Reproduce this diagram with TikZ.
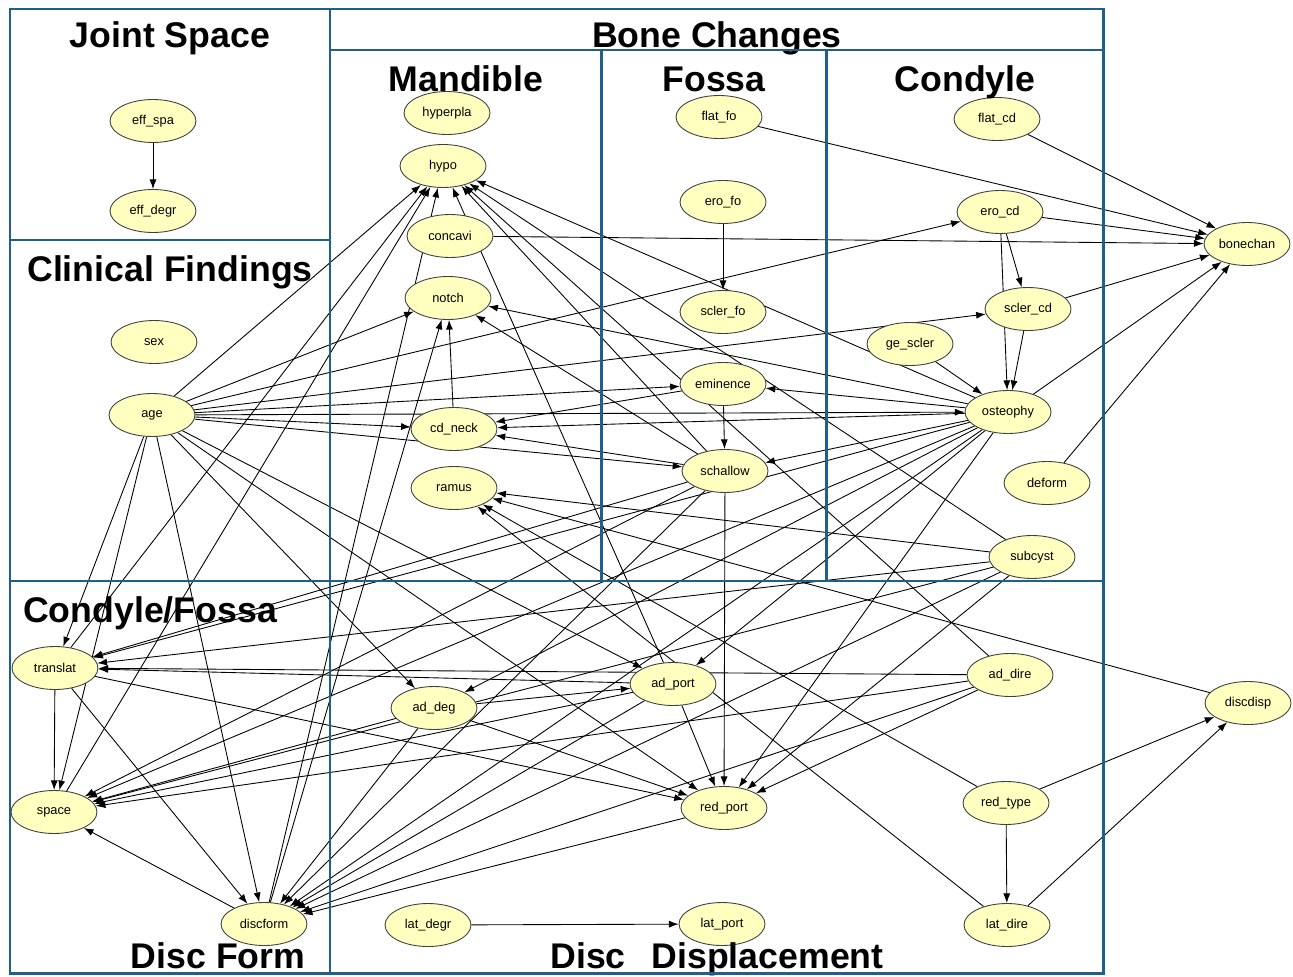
\documentclass[tikz,border=0pt]{standalone}
\usepackage{fontspec}
\setsansfont{Liberation Sans}
\usetikzlibrary{shapes.geometric,arrows.meta}
\definecolor{panelblue}{RGB}{31,95,140}
\definecolor{varyellow}{RGB}{255,255,192}
\tikzstyle{var} = [draw=black!75, fill=varyellow, ellipse, minimum width=1.72cm, minimum height=0.86cm, inner sep=0pt, line width=0.5pt, font=\sffamily\fontsize{7.3}{8}\selectfont]
\tikzstyle{dep} = [-{Latex[length=5.5pt,width=4pt]}, line width=0.5pt]
\tikzstyle{panel} = [draw=panelblue, line width=1.7pt]
\tikzstyle{heading} = [anchor=base, inner sep=0pt, font=\sffamily\bfseries\fontsize{20.3}{22}\selectfont]
\pgfdeclarelayer{background}
\pgfsetlayers{background,main}

\begin{document}
\begin{tikzpicture}[x=0.02cm, y=-0.02cm]
      \useasboundingbox (0,0) rectangle (1293,976);
      % joint space / clinical findings / condyle-fossa
      \node[var] (effspa) at (153,121) {eff\_spa};
      \node[var] (effdegr) at (153,211) {eff\_degr};
      \node[var] (sex) at (154,342) {sex};
      \node[var] (age) at (152,415) {age};
      \node[var] (translat) at (55,668) {translat};
      \node[var] (space) at (54,812) {space};
      \node[var] (discform) at (264,924) {discform};
      % bone changes
      \node[var] (hyperpla) at (447,113) {hyperpla};
      \node[var] (hypo) at (443,166) {hypo};
      \node[var] (concavi) at (450,236) {concavi};
      \node[var] (notch) at (448,298) {notch};
      \node[var] (cdneck) at (454,429) {cd\_neck};
      \node[var] (ramus) at (454,488) {ramus};
      \node[var] (flatfo) at (719,117) {flat\_fo};
      \node[var] (erofo) at (723,202) {ero\_fo};
      \node[var] (sclerfo) at (723,312) {scler\_fo};
      \node[var] (eminence) at (723,384) {eminence};
      \node[var] (schallow) at (725,471) {schallow};
      \node[var] (flatcd) at (997,119) {flat\_cd};
      \node[var] (erocd) at (1000,212) {ero\_cd};
      \node[var] (sclercd) at (1028,309) {scler\_cd};
      \node[var] (gescler) at (910,344) {ge\_scler};
      \node[var] (osteophy) at (1008,412) {osteophy};
      \node[var] (deform) at (1047,483) {deform};
      \node[var] (subcyst) at (1032,557) {subcyst};
      \node[var] (bonechan) at (1247,244) {bonechan};
      % disc displacement
      \node[var] (adport) at (673,684) {ad\_port};
      \node[var] (addeg) at (434,708) {ad\_deg};
      \node[var] (redport) at (724,808) {red\_port};
      \node[var] (addire) at (1010,675) {ad\_dire};
      \node[var] (redtype) at (1006,803) {red\_type};
      \node[var] (latdire) at (1007,925) {lat\_dire};
      \node[var] (latdegr) at (428,925) {lat\_degr};
      \node[var] (latport) at (722,924) {lat\_port};
      \node[var] (discdisp) at (1248,703) {discdisp};
      \begin{pgfonlayer}{background}
        \foreach \src/\dst in {effspa/effdegr,
          age/hypo, age/notch, age/erocd, age/sclercd, age/eminence, age/osteophy, age/cdneck,
          age/schallow, age/addeg, age/adport, age/redport, age/translat, age/space, age/discform,
          translat/hypo, translat/space, translat/discform, translat/redport, space/hypo,
          discform/hypo, discform/notch, discform/space, concavi/bonechan, cdneck/notch,
          flatfo/bonechan, flatcd/bonechan, erocd/bonechan, sclercd/bonechan, osteophy/bonechan,
          deform/bonechan, erofo/sclerfo, erocd/sclercd, erocd/osteophy, sclercd/osteophy,
          gescler/osteophy, eminence/schallow, eminence/cdneck,
          osteophy/hypo, osteophy/notch, osteophy/eminence, osteophy/cdneck, osteophy/schallow,
          osteophy/translat, osteophy/space, osteophy/discform, osteophy/addeg, osteophy/adport,
          osteophy/redport,
          schallow/hypo, schallow/notch, schallow/cdneck, schallow/redport, schallow/translat,
          schallow/space, schallow/discform,
          subcyst/hypo, subcyst/ramus, subcyst/translat, subcyst/space, subcyst/redport,
          subcyst/discform,
          addeg/adport, addeg/redport, addeg/space, addeg/discform,
          adport/hypo, adport/translat, adport/space, adport/redport, adport/discform,
          addire/hypo, addire/translat, addire/space, addire/redport, addire/discform,
          redport/discform, redtype/latdire, redtype/discdisp, redtype/ramus,
          latdire/discdisp, latdire/ramus, discdisp/ramus, latdegr/latport}
          \draw[dep] (\src) -- (\dst);
      \end{pgfonlayer}
      % group titles
      \node[heading] (tjoint) at (170,48) {Joint Space};
      \node[heading] (tbone) at (717,48) {Bone Changes};
      \node[heading] (tmand) at (466,92) {Mandible};
      \node[heading] (tfossa) at (714,92) {Fossa};
      \node[heading] (tcond) at (965,92) {Condyle};
      \node[heading] (tclin) at (170,281) {Clinical Findings};
      \node[heading] (tcf) at (150,622) {Condyle/Fossa};
      \node[heading] (tform) at (218,968) {Disc Form};
      \node[heading] (tdisp) at (717,968) {Disc\hspace{0.45em} Displacement};
      % group frames
      \draw[panel] (10,9) rectangle (330,240);
      \draw[panel] (10,240) rectangle (330,581);
      \draw[panel] (10,581) rectangle (330,973);
      \draw[panel] (330,9) rectangle (1103,581);
      \draw[panel] (330,50) -- (1103,50);
      \draw[panel] (601,50) -- (601,581);
      \draw[panel] (826,50) -- (826,581);
      \draw[panel] (330,581) rectangle (1103,973);
\end{tikzpicture}
\end{document}
